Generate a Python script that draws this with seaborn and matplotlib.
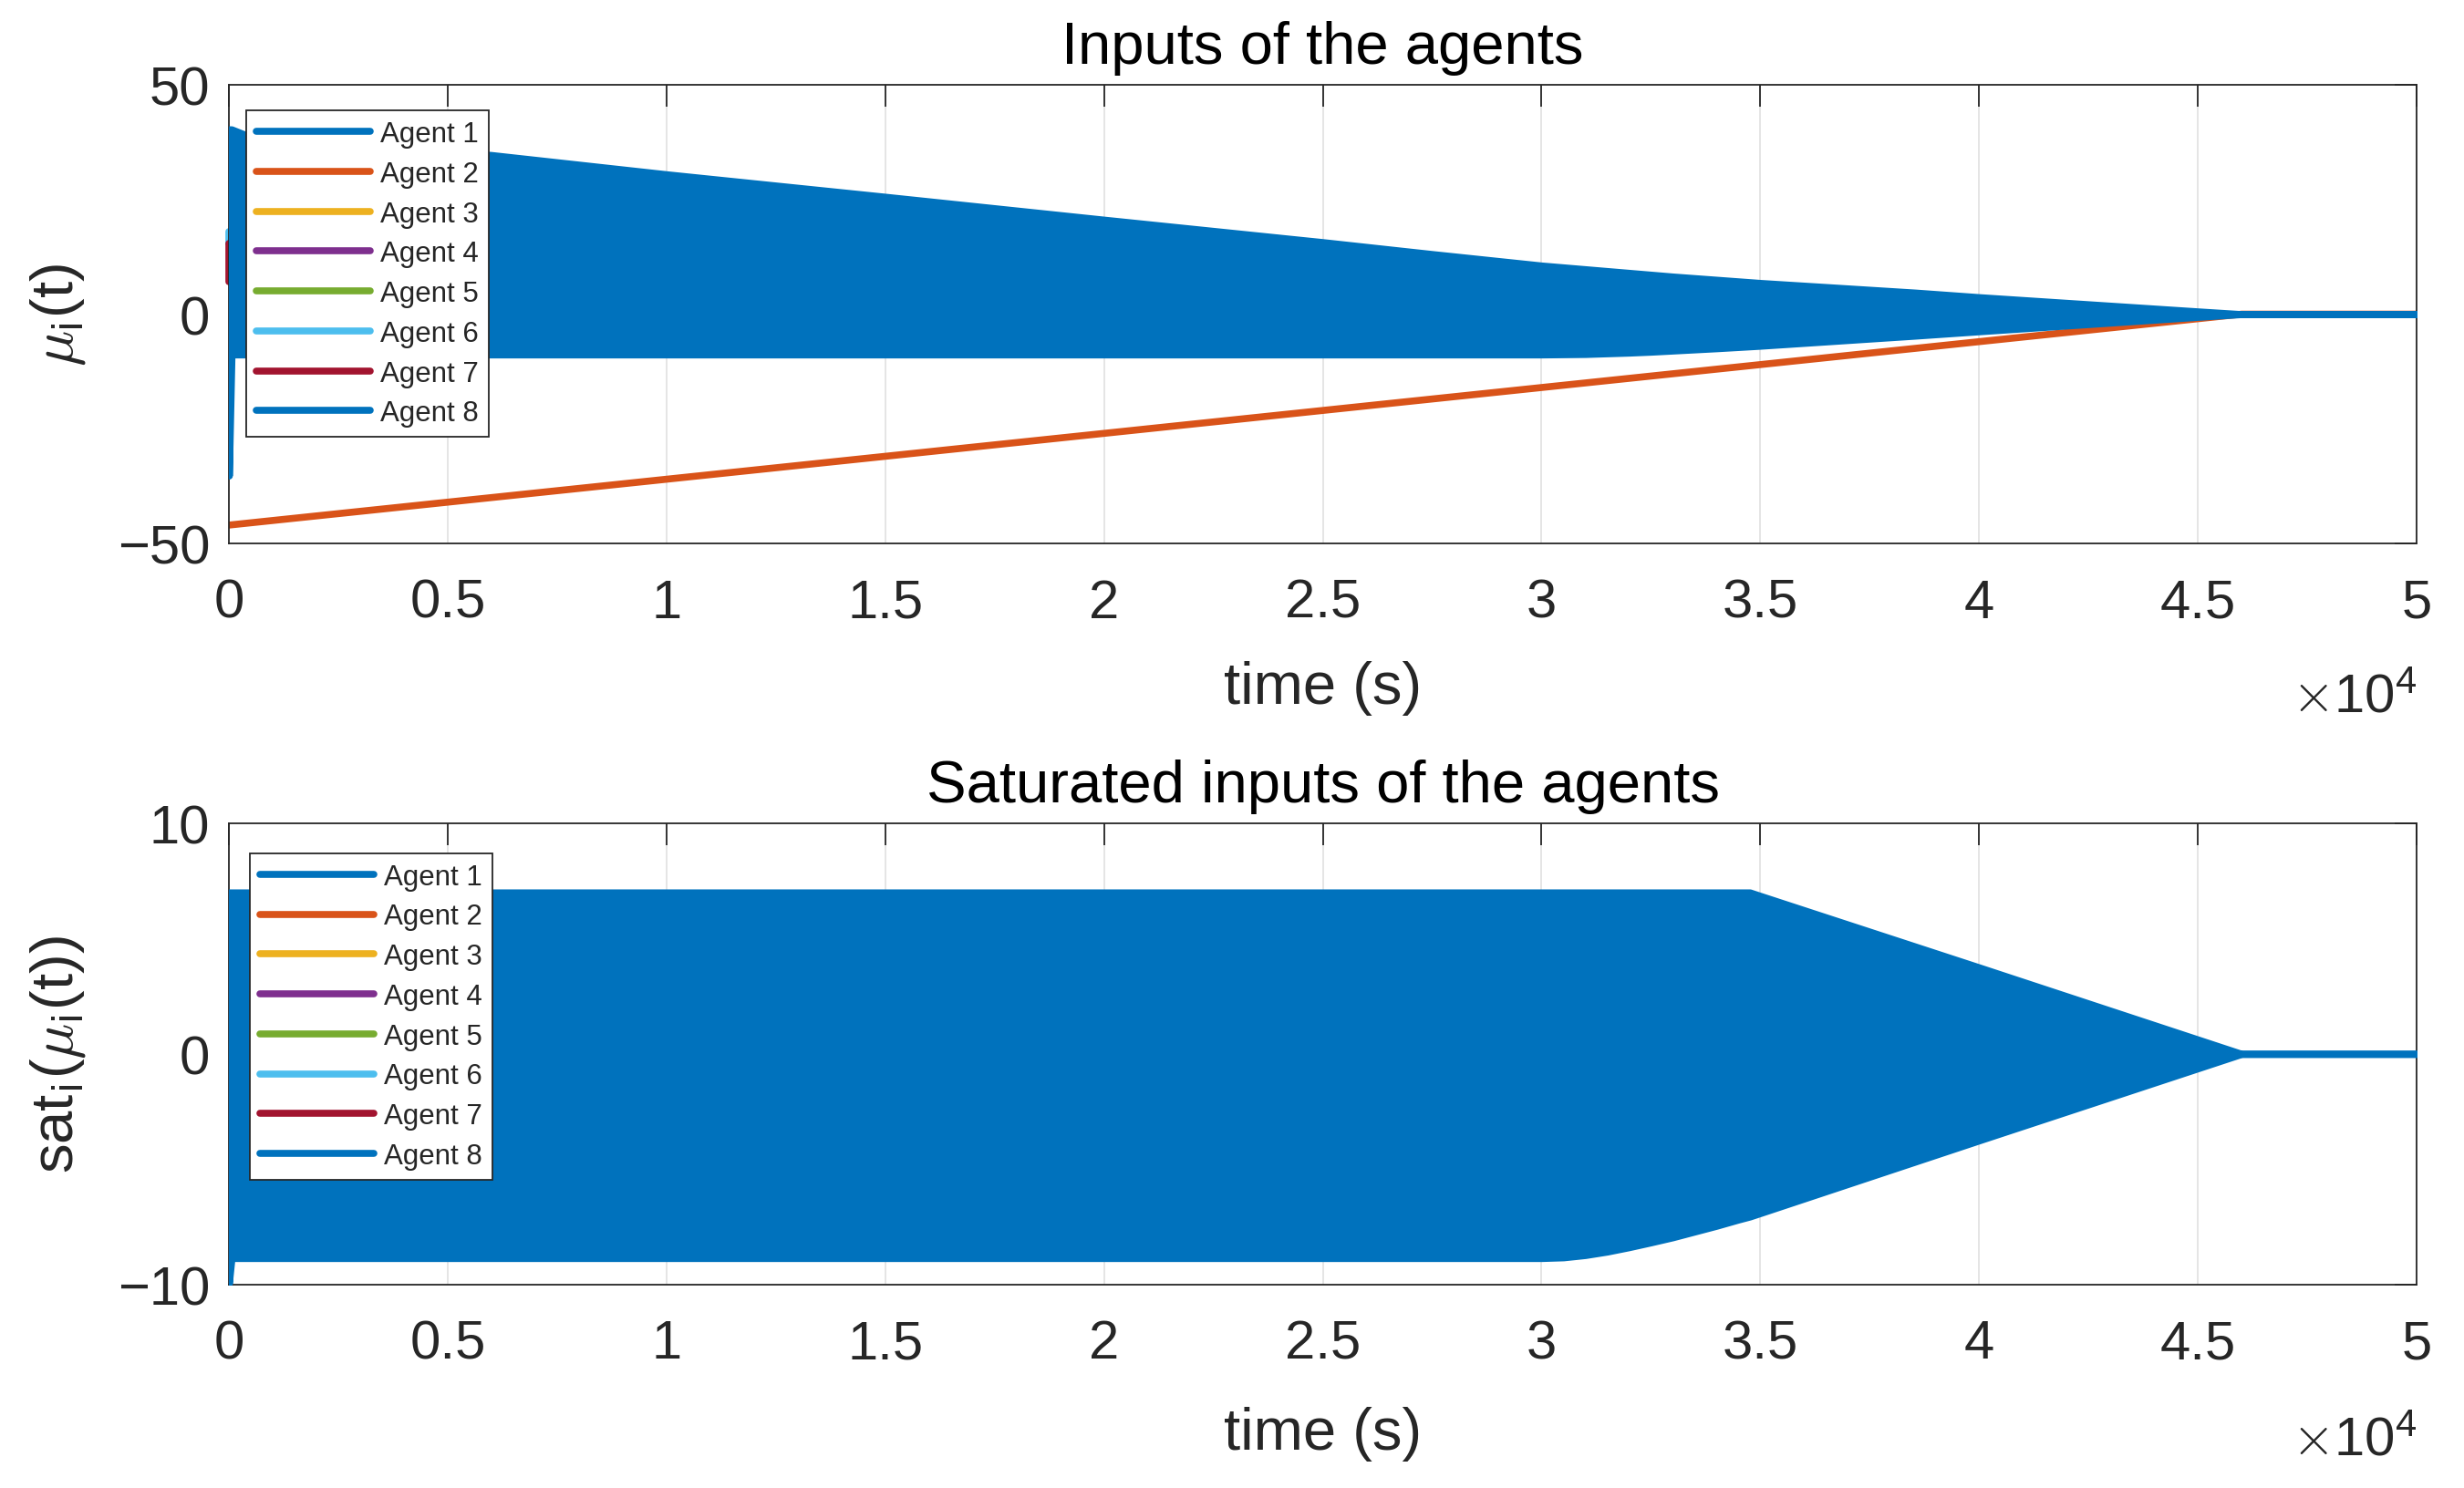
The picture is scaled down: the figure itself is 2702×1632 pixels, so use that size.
import matplotlib
matplotlib.use('Agg')
import matplotlib.pyplot as plt
import seaborn as sns
from matplotlib.lines import Line2D
from matplotlib.ticker import FuncFormatter, MultipleLocator

# agents and their (MATLAB default) colours
agents = [f'Agent {i}' for i in range(1, 9)]
agent_colors = ['#0072BD', '#D95319', '#EDB120', '#7E2F8E',
                '#77AC30', '#4DBEEE', '#A2142F', '#0072BD']

# envelope of the fast oscillation of Agent 1 / Agent 8 (inputs), time in s
t_band = [0, 60, 350, 6000, 10000, 15000, 20000, 25000, 27500, 30000, 31000,
          32000, 32500, 33000, 34000, 35000, 38540, 40000, 45000, 46000, 50000]
mu_upper = [40.3, 40.3, 39.2, 34.7, 30.5, 25.6, 20.6, 15.7, 13.1, 10.6, 9.8,
            9.0, 8.6, 8.2, 7.5, 6.8, 4.7, 3.7, 0.6, 0.0, 0.0]
mu_lower = [-35.2, -8.8, -8.8, -8.8, -8.8, -8.8, -8.8, -8.8, -8.8, -8.8, -8.7,
            -8.4, -8.2, -7.95, -7.45, -6.9, -4.7, -3.75, -0.6, 0.0, 0.0]

# Agent 2 input (slow ramp)
t_agent2 = [0, 46000, 50000]
mu_agent2 = [-46.0, 0.0, 0.0]

# short initial transients of Agents 6 and 7
t_start = [0, 0]
mu_agent6 = [18.0, 15.5]
mu_agent7 = [15.5, 7.0]

# envelope of the saturated inputs
t_sat = [0, 60, 30000, 30500, 31000, 31500, 32000, 32500, 33000, 33500, 34000,
         34500, 34760, 35000, 40000, 46000, 50000]
sat_upper = [7.0, 7.0, 7.0, 7.0, 7.0, 7.0, 7.0, 7.0, 7.0, 7.0, 7.0,
             7.0, 7.0, 6.85, 3.75, 0.0, 0.0]
sat_lower = [-9.95, -8.85, -8.85, -8.82, -8.72, -8.57, -8.38, -8.17, -7.95, -7.7, -7.45,
             -7.18, -7.05, -6.9, -3.75, 0.0, 0.0]

sns.set_theme(style='white')
plt.rcParams['font.family'] = ['Liberation Sans', 'DejaVu Sans']
plt.rcParams['mathtext.fontset'] = 'cm'
dark = '#262626'

fig = plt.figure(figsize=(27.02, 16.33), dpi=100)
ax1 = fig.add_axes([0.0929, 0.6344, 0.8879, 0.3080])
ax2 = fig.add_axes([0.0929, 0.1366, 0.8879, 0.3099])

lw = 5.5


def style_axes(ax, ylim, yticks, title, ylabel, xlab_y, xoff_y):
    ax.set_xlim(0, 50000)
    ax.set_ylim(*ylim)
    ax.set_yticks(yticks)
    ax.xaxis.set_major_locator(MultipleLocator(5000))
    ax.xaxis.set_major_formatter(FuncFormatter(lambda v, p: f'{v / 1e4:g}'))
    ax.tick_params(axis='both', direction='in', length=17, width=1.3,
                   colors=dark, labelsize=43, top=True, right=True)
    ax.tick_params(axis='x', pad=27)
    ax.tick_params(axis='y', pad=15)
    for s in ax.spines.values():
        s.set_visible(True)
        s.set_color(dark)
        s.set_linewidth(1.3)
    ax.xaxis.grid(True, color='#e3e3e3', linewidth=1.3)
    ax.yaxis.grid(False)
    ax.set_axisbelow(True)
    ax.set_title(title, fontsize=47, color='black', pad=17)
    ax.set_xlabel('time (s)', fontsize=47, color=dark)
    ax.xaxis.set_label_coords(0.5, xlab_y)
    ax.set_ylabel(ylabel, fontsize=47, color=dark)
    ax.yaxis.set_label_coords(-0.0646, 0.5)
    ax.text(1.0, xoff_y, r'$\times\mathregular{10^{4}}$', transform=ax.transAxes,
            ha='right', va='top', fontsize=43, color=dark)
    handles = [Line2D([0], [0], color=c, lw=lw) for c in agent_colors]
    return handles


legend_kw = dict(loc='upper left', borderaxespad=0, fontsize=22.5, handlelength=4,
                 handletextpad=0.35, borderpad=0.35, labelspacing=0.44,
                 fancybox=False, framealpha=1, edgecolor=dark)

# top panel: inputs
sns.lineplot(x=t_agent2, y=mu_agent2, color=agent_colors[1], lw=lw, ax=ax1, zorder=2)
ax1.plot(t_start, mu_agent6, color=agent_colors[5], lw=lw, clip_on=False, zorder=2.5)
ax1.plot(t_start, mu_agent7, color=agent_colors[6], lw=lw, clip_on=False, zorder=2.5)
ax1.fill_between(t_band, mu_lower, mu_upper, color=agent_colors[0], linewidth=lw,
                 edgecolor=agent_colors[0], joinstyle='round', zorder=3)
h = style_axes(ax1, (-50, 50), [-50, 0, 50], 'Inputs of the agents',
               r'$\mu_{\mathregular{i}}$(t)', -0.255, -0.282)
leg1 = ax1.legend(h, agents, bbox_to_anchor=(0.0079, 0.944), **legend_kw)
leg1.get_frame().set_linewidth(1.3)

# bottom panel: saturated inputs
ax2.fill_between(t_sat, sat_lower, sat_upper, color=agent_colors[0], linewidth=lw,
                 edgecolor=agent_colors[0], joinstyle='round', zorder=3)
h = style_axes(ax2, (-10, 10), [-10, 0, 10], 'Saturated inputs of the agents',
               r'sat$_{\mathregular{i}}$($\mu_{\mathregular{i}}$(t))', -0.262, -0.285)
leg2 = ax2.legend(h, agents, bbox_to_anchor=(0.0096, 0.935), **legend_kw)
leg2.get_frame().set_linewidth(1.3)

fig.savefig('out.png', dpi=100, facecolor='white')
